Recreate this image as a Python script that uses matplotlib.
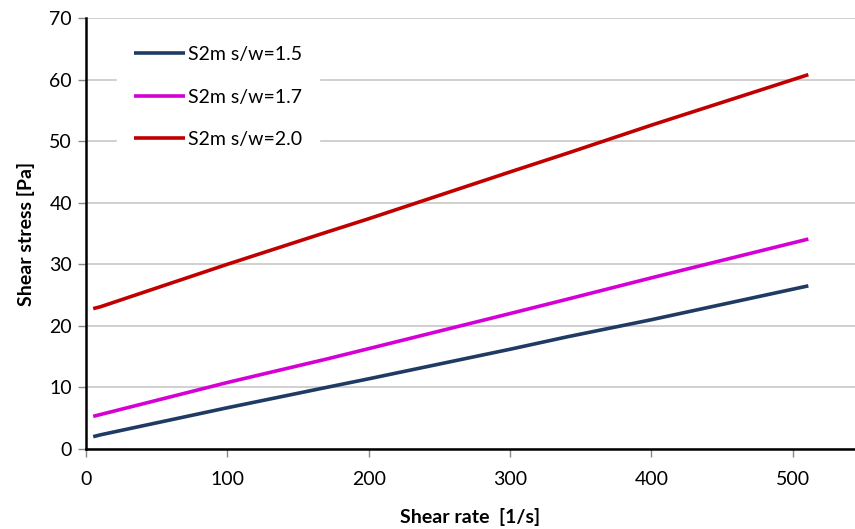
import matplotlib
matplotlib.use("Agg")
import matplotlib.pyplot as plt

# shear rates of the viscometer readings [1/s]
shear_rate = [5.1, 10.2, 100, 170, 200, 300, 340, 400, 511]

# shear stress [Pa]
stress_15 = [2.0, 2.3, 6.7, 10.0, 11.4, 16.2, 18.2, 21.0, 26.5]
stress_17 = [5.3, 5.6, 10.8, 14.6, 16.3, 22.0, 24.3, 27.8, 34.1]
stress_20 = [22.8, 23.1, 30.0, 35.2, 37.4, 45.0, 48.0, 52.6, 60.8]

series = [
    ("S2m s/w=1.5", stress_15, "#1f3b63"),
    ("S2m s/w=1.7", stress_17, "#d400d4"),
    ("S2m s/w=2.0", stress_20, "#c00000"),
]

plt.rcParams['font.family'] = ['Lato', 'DejaVu Sans']

fig = plt.figure(figsize=(8.55, 5.29), dpi=100)
ax = fig.add_axes([86 / 855, 1 - 449 / 529, 1 - 86 / 855, (449 - 18) / 529])

for name, vals, color in series:
    ax.plot(shear_rate, vals, color=color, lw=2.6, label=name, solid_capstyle='butt')

ax.set_xlim(0, 544)
ax.set_ylim(0, 70)
ax.set_xticks(range(0, 501, 100))
ax.set_yticks(range(0, 71, 10))
ax.yaxis.grid(True, color="#c8c8c8", lw=1.2)
ax.set_axisbelow(True)

for side in ("top", "right"):
    ax.spines[side].set_visible(False)
for side in ("left", "bottom"):
    ax.spines[side].set_linewidth(1.8)
    ax.spines[side].set_color("black")

ax.tick_params(axis='both', direction='out', length=6, width=1, color="#888888",
               labelsize=14, pad=4)
ax.tick_params(axis='x', pad=10)

ax.set_xlabel("Shear rate  [1/s]", fontsize=14, fontweight='bold', labelpad=14)
ax.set_ylabel("Shear stress [Pa]", fontsize=14, fontweight='bold', labelpad=10)

leg = ax.legend(loc='upper left', bbox_to_anchor=(0.04, 0.975), frameon=True,
                fontsize=14, handlelength=2.6, handletextpad=0.15,
                labelspacing=1.3, borderpad=0.9, borderaxespad=0.0,
                fancybox=False)
leg.get_frame().set_edgecolor("white")
leg.get_frame().set_facecolor("white")
leg.get_frame().set_alpha(1.0)

fig.savefig("out.png", dpi=100)
